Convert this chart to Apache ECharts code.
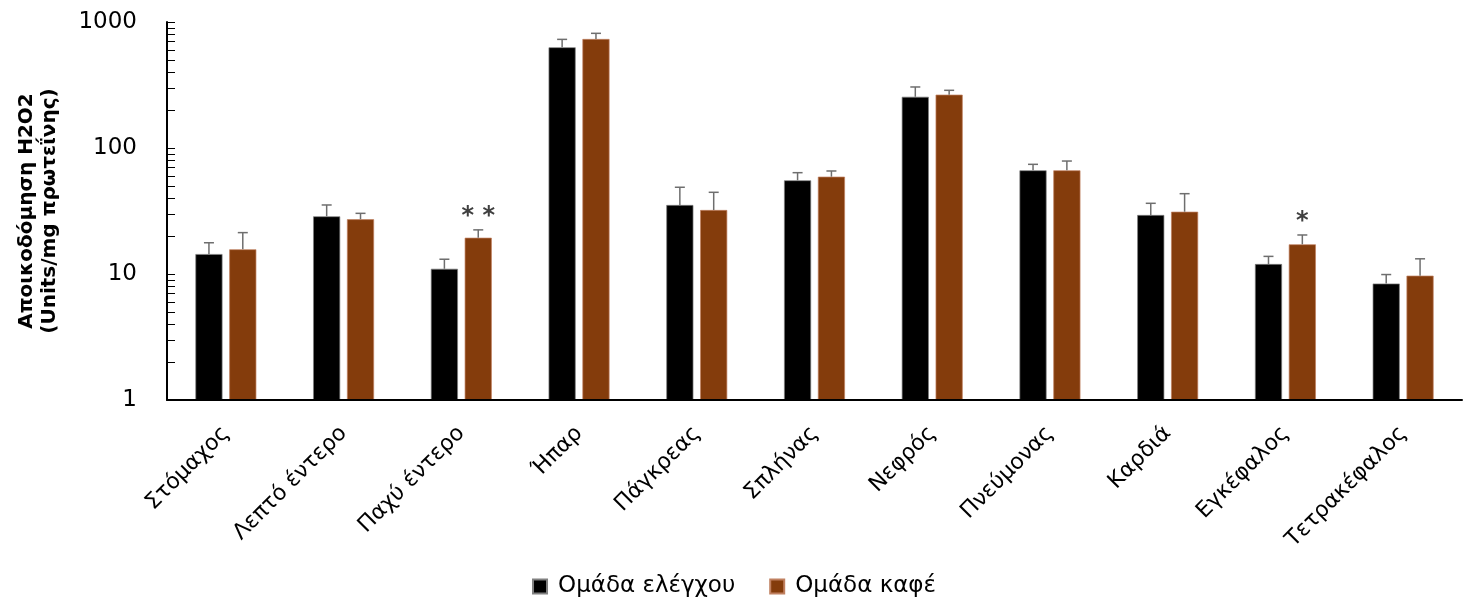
<!DOCTYPE html>
<html>
<head>
<meta charset="utf-8">
<script src="https://cdn.jsdelivr.net/npm/echarts@6/dist/echarts.min.js"></script>
<style>html,body{margin:0;padding:0;background:#fff}#c{width:1468px;height:608px}</style>
</head>
<body>
<div id="c"></div>
<script>
const categories = ['Στόμαχος','Λεπτό έντερο','Παχύ έντερο','Ήπαρ','Πάγκρεας','Σπλήνας','Νεφρός','Πνεύμονας','Καρδιά','Εγκέφαλος','Τετρακέφαλος'];
const controlValues = [14.4, 28.7, 11.0, 630, 35.3, 55.4, 255, 66.5, 29.4, 12.0, 8.4];
const controlErrTop = [17.7, 35.3, 13.1, 728, 48.8, 63.7, 305, 74.2, 36.4, 13.8, 9.9];
const coffeeValues = [15.7, 27.2, 19.4, 733, 32.2, 59.2, 265, 66.5, 31.2, 17.2, 9.7];
const coffeeErrTop = [21.3, 30.3, 22.4, 813, 44.5, 65.7, 287, 78.8, 43.4, 20.4, 13.2];
const significance = ['', '', '**', '', '', '', '', '', '', '*', ''];
const yTickLabels = [1, 10, 100, 1000];
const yMinorTicks = [1,2,3,4,5,6,7,8,9,10,20,30,40,50,60,70,80,90,100,200,300,400,500,600,700,800,900,1000];

const FONT = 'DejaVu Sans';
const BAR_W = 0.23, GAP = 0.25;
const offsetFrac = (BAR_W * (2 + GAP)) / 2 - BAR_W / 2;

function errSeries(name, vals, errs, sign, stars) {
  const data = categories.map((c, i) => [i, vals[i], errs[i], stars ? stars[i] : '']);
  return {
    type: 'custom',
    name: name + '_err',
    silent: true,
    z: 5,
    data: data,
    renderItem: function (params, api) {
      const i = api.value(0);
      const base = api.coord([i, api.value(1)]);
      const top = api.coord([i, api.value(2)]);
      const band = api.size([1, 0])[0];
      const x = base[0] + sign * offsetFrac * band;
      const cap = 5;
      const children = [
        { type: 'line', shape: { x1: x, y1: base[1], x2: x, y2: top[1] }, style: { stroke: '#6e6e6e', lineWidth: 1.5 } },
        { type: 'line', shape: { x1: x - cap, y1: top[1], x2: x + cap, y2: top[1] }, style: { stroke: '#6e6e6e', lineWidth: 1.5 } }
      ];
      const star = data[params.dataIndex][3];
      if (star) {
        children.push({ type: 'text', style: { text: star.split('').join(' '), x: x, y: top[1] - 1, align: 'center', verticalAlign: 'bottom', font: 'bold 24px ' + FONT, fill: '#404040' } });
      }
      return { type: 'group', children: children };
    }
  };
}

const chart = echarts.init(document.getElementById('c'), null, { renderer: 'canvas' });
chart.setOption({
  animation: false,
  backgroundColor: '#fff',
  textStyle: { fontFamily: FONT },
  grid: { left: 167, right: 6, top: 22, bottom: 208, containLabel: false, outerBoundsMode: 'none' },
  legend: {
    data: ['Ομάδα ελέγχου', 'Ομάδα καφέ'],
    bottom: 5,
    left: 'center',
    itemWidth: 14, itemHeight: 14, itemGap: 34,
    icon: 'rect',
    textStyle: { fontSize: 23, color: '#000', fontFamily: FONT, padding: [0, 0, 0, 6] }
  },
  xAxis: {
    type: 'category',
    data: categories,
    axisLine: { lineStyle: { color: '#000', width: 2 } },
    axisTick: { show: false },
    axisLabel: { rotate: 45, fontSize: 22, color: '#000', margin: 30, interval: 0, fontFamily: FONT }
  },
  yAxis: {
    type: 'log',
    logBase: 10,
    min: 1,
    max: 1000,
    name: 'Αποικοδόμηση H2O2\n(Units/mg πρωτεΐνης)',
    nameLocation: 'middle',
    nameGap: 106,
    nameTextStyle: { fontSize: 20, fontWeight: 'bold', color: '#000', lineHeight: 23, fontFamily: FONT },
    axisLine: { show: true, lineStyle: { color: '#000', width: 2 } },
    axisTick: { show: true, inside: true, length: 8, lineStyle: { color: '#000', width: 1 }, customValues: yMinorTicks },
    axisLabel: { fontSize: 23, color: '#000', margin: 30, customValues: yTickLabels, fontFamily: FONT, formatter: function (v) { return String(Math.round(v)); } },
    splitLine: { show: false },
    minorTick: { show: false }
  },
  series: [
    { name: 'Ομάδα ελέγχου', type: 'bar', data: controlValues, barWidth: (BAR_W * 100) + '%', barGap: (GAP * 100) + '%',
      itemStyle: { color: '#000', borderColor: '#808080', borderWidth: 0.7 },
      markLine: { silent: true, symbol: 'none', label: { show: false }, lineStyle: { color: '#000', width: 2, type: 'solid' }, data: [{ yAxis: 1 }] } },
    { name: 'Ομάδα καφέ', type: 'bar', data: coffeeValues, barWidth: (BAR_W * 100) + '%', barGap: (GAP * 100) + '%',
      itemStyle: { color: '#843C0C', borderColor: '#c08060', borderWidth: 0.7 } },
    errSeries('Ομάδα ελέγχου', controlValues, controlErrTop, -1, null),
    errSeries('Ομάδα καφέ', coffeeValues, coffeeErrTop, 1, significance)
  ]
});
</script>
</body>
</html>
